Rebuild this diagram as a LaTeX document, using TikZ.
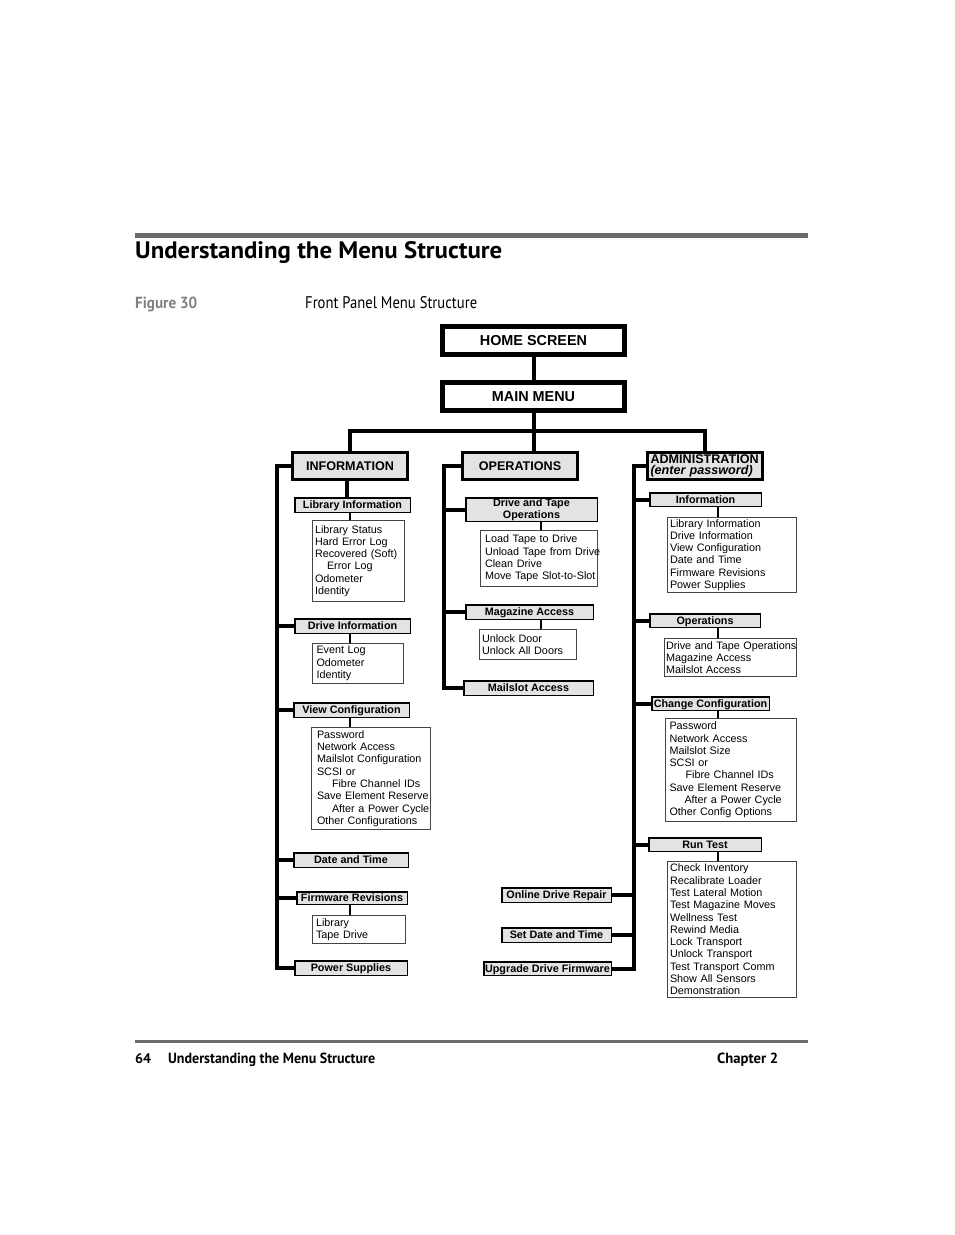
\documentclass[tikz,border=0pt]{standalone}
\usepackage{fontspec}
\usepackage{graphicx}
\setmainfont{Liberation Sans}
\newfontfamily\headfont{PT Sans}
\definecolor{boxgray}{HTML}{E3E3E3}
\definecolor{detline}{HTML}{444444}
\definecolor{bargray}{HTML}{6B6B6B}
\definecolor{figgray}{HTML}{808080}
\tikzset{
  topbox/.style={draw=black, line width=5pt, fill=white, inner sep=0pt, text height=10.3pt, text depth=0pt, font=\fontsize{14.4}{16}\selectfont\bfseries},
  catbox/.style={draw=black, line width=3pt, fill=boxgray, inner sep=0pt, font=\fontsize{12.6}{11.5}\selectfont\bfseries},
  catone/.style={catbox, text height=9pt, text depth=0pt},
  subboxbase/.style={draw=black, line width=1.5pt, fill=boxgray, inner sep=0pt, align=center, font=\fontsize{10.8}{12}\selectfont\bfseries},
  subbox/.style={subboxbase, text height=7.7pt, text depth=0pt},
  detbox/.style={draw=detline, line width=1pt, fill=white, inner ysep=0pt, align=left, font=\fontsize{10.8}{12.3}\selectfont},
  bus/.style={line width=4pt},
  stub/.style={line width=1.5pt},
  headtext/.style={anchor=base west, inner sep=0pt},
}
\begin{document}
\begin{tikzpicture}[x=1pt,y=-1pt]
\useasboundingbox[fill=white] (0,0) rectangle (954,1235);

% header and footer
\fill[bargray] (135,233) rectangle (808,237.5);
\node[headtext] (title) at (135,258) {\resizebox{367pt}{17pt}{\headfont\bfseries Understanding the Menu Structure}};
\node[headtext, text=figgray] (fig) at (135,308) {\resizebox{62pt}{11.5pt}{\headfont\bfseries Figure 30}};
\node[headtext] (caption) at (305,308) {\resizebox{172pt}{12pt}{\headfont Front Panel Menu Structure}};
\fill[bargray] (135,1040) rectangle (808,1042.5);
\node[headtext] (pg) at (135,1063) {\resizebox{16pt}{10pt}{\headfont\bfseries 64}};
\node[headtext] (foot) at (168,1063) {\resizebox{207pt}{10.5pt}{\headfont\bfseries Understanding the Menu Structure}};
\node[headtext] (chap) at (717,1063) {\resizebox{61pt}{10.5pt}{\headfont\bfseries Chapter 2}};

% top level
\node[topbox, minimum width=182pt, minimum height=28pt] (home) at (533.5,340.5) {HOME SCREEN};
\node[topbox, minimum width=182pt, minimum height=28pt] (main) at (533.5,396.5) {MAIN MENU};

\node[catone, minimum width=115pt, minimum height=27pt] (info) at (350,466) {INFORMATION};
\node[catone, minimum width=115pt, minimum height=27pt] (ops) at (520,466) {OPERATIONS};
\node[catbox, minimum height=27pt, text width=109pt, inner xsep=3pt, align=left] (admin) at (705,466) {\mbox{ADMINISTRATION}\\\mbox{\itshape (enter password)}};

% information column
\node[subbox, minimum width=115.5pt, minimum height=14.5pt] (libinfo) at (352.5,505) {Library Information};
\node[detbox, inner xsep=2.5pt, text width=87pt, minimum height=81pt] (libdet) at (358.5,561)
 {Library Status\\Hard Error Log\\\mbox{Recovered (Soft)}\\\hspace*{12pt}Error Log\\Odometer\\Identity};
\node[subbox, minimum width=115.5pt, minimum height=14.5pt] (driveinfo) at (352.5,626) {Drive Information};
\node[detbox, inner xsep=4pt, text width=83pt, minimum height=40pt] (drivedet) at (358,663.5)
 {Event Log\\Odometer\\Identity};
\node[subbox, minimum width=115.5pt, minimum height=14.5pt] (viewconf) at (351.5,710) {View Configuration};
\node[detbox, inner xsep=5.5pt, text width=108pt, minimum height=102pt] (viewdet) at (371,778.5)
 {Password\\Network Access\\\mbox{Mailslot Configuration}\\SCSI or\\\mbox{\hspace*{15pt}Fibre Channel IDs}\\\mbox{Save Element Reserve}\\\mbox{\hspace*{15pt}After a Power Cycle}\\\mbox{Other Configurations}};
\node[subbox, minimum width=114.5pt, minimum height=14.5pt] (datetime) at (351,860) {Date and Time};
\node[subbox, minimum width=110.5pt, minimum height=12.5pt] (firmrev) at (352,898) {Firmware Revisions};
\node[detbox, inner xsep=3.5pt, text width=86pt, minimum height=28pt] (firmdet) at (359,929.5)
 {Library\\Tape Drive};
\node[subbox, minimum width=112.5pt, minimum height=14.5pt] (power) at (351,968) {Power Supplies};

% operations column
\node[subboxbase, minimum width=131.5pt, minimum height=23.5pt] (dto) at (531.5,509.5) {Drive and Tape\\Operations};
\node[detbox, inner xsep=4.5pt, text width=108pt, minimum height=56pt] (dtodet) at (539,558.5)
 {\mbox{Load Tape to Drive}\\\mbox{Unload Tape from Drive}\\Clean Drive\\\mbox{Move Tape Slot-to-Slot}};
\node[subbox, minimum width=127.5pt, minimum height=14.5pt] (mag) at (529.5,612) {Magazine Access};
\node[detbox, inner xsep=2.5pt, text width=92pt, minimum height=30pt] (magdet) at (528,644.5)
 {Unlock Door\\\mbox{Unlock All Doors}};
\node[subbox, minimum width=129.5pt, minimum height=14.5pt] (mail) at (528.5,688) {Mailslot Access};
\node[subbox, minimum width=109.5pt, minimum height=14.5pt] (online) at (556.5,895) {Online Drive Repair};
\node[subbox, minimum width=109.5pt, minimum height=14.5pt] (setdate) at (556.5,935) {Set Date and Time};
\node[subbox, minimum width=127.5pt, minimum height=13.5pt] (upgrade) at (547.5,968.5) {Upgrade Drive Firmware};

% administration column
\node[subbox, minimum width=111.5pt, minimum height=13.5pt] (ainfo) at (705.5,499.5) {Information};
\node[detbox, inner xsep=2.5pt, text width=124pt, minimum height=75pt] (ainfodet) at (732,555)
 {Library Information\\Drive Information\\View Configuration\\Date and Time\\Firmware Revisions\\Power Supplies};
\node[subbox, minimum width=110.5pt, minimum height=13.5pt] (aops) at (705,620.5) {Operations};
\node[detbox, inner xsep=1.5pt, text width=129pt, minimum height=38pt] (aopsdet) at (730.5,657.5)
 {\mbox{Drive and Tape Operations}\\Magazine Access\\Mailslot Access};
\node[subbox, minimum width=117.5pt, minimum height=13.5pt] (chconf) at (710.5,703.5) {Change Configuration};
\node[detbox, inner xsep=4pt, text width=123pt, minimum height=103pt] (chconfdet) at (731,770)
 {Password\\Network Access\\Mailslot Size\\SCSI or\\\mbox{\hspace*{16pt}Fibre Channel IDs}\\\mbox{Save Element Reserve}\\\mbox{\hspace*{15pt}After a Power Cycle}\\\mbox{Other Config Options}};
\node[subbox, minimum width=112.5pt, minimum height=13.5pt] (runtest) at (705,844.5) {Run Test};
\node[detbox, inner xsep=2.5pt, text width=124pt, minimum height=136pt] (runtestdet) at (732,929.5)
 {Check Inventory\\Recalibrate Loader\\Test Lateral Motion\\\mbox{Test Magazine Moves}\\Wellness Test\\Rewind Media\\Lock Transport\\Unlock Transport\\\mbox{Test Transport Comm}\\Show All Sensors\\Demonstration};

% connectors
\coordinate (busY) at (0,431);
\coordinate (ibus) at (277,0);
\coordinate (obus) at (444,0);
\coordinate (abus) at (634,0);
\coordinate (istub) at (347,0);
\coordinate (isx) at (350,0);
\coordinate (osx) at (541,0);
\coordinate (asx) at (718,0);

\draw[bus] (home.south) -- (main.north);
\draw[bus] (main.south) -- (main.south |- ops.north);
\draw[bus] (info.north) -- (info.north |- busY) -- (admin.north |- busY) -- (admin.north);

\draw[bus] (info.west) -- (info.west -| ibus) -- (power.west -| ibus) -- (power.west);
\foreach \n in {driveinfo,viewconf,datetime,firmrev} \draw[bus] (\n.west) -- (\n.west -| ibus);
\draw[bus] (info.south -| istub) -- (libinfo.north -| istub);
\foreach \a/\b in {libinfo/libdet,driveinfo/drivedet,viewconf/viewdet,firmrev/firmdet}
  \draw[stub] (\a.south -| isx) -- (\b.north -| isx);

\draw[bus] (ops.west) -- (ops.west -| obus) -- (mail.west -| obus) -- (mail.west);
\foreach \n in {dto,mag} \draw[bus] (\n.west) -- (\n.west -| obus);
\foreach \a/\b in {dto/dtodet,mag/magdet}
  \draw[stub] (\a.south -| osx) -- (\b.north -| osx);

\draw[bus] (admin.west) -- (admin.west -| abus) -- (upgrade.east -| abus) -- (upgrade.east);
\foreach \n in {ainfo,aops,chconf,runtest} \draw[bus] (\n.west) -- (\n.west -| abus);
\foreach \n in {online,setdate} \draw[bus] (\n.east) -- (\n.east -| abus);
\foreach \a/\b in {ainfo/ainfodet,aops/aopsdet,chconf/chconfdet,runtest/runtestdet}
  \draw[stub] (\a.south -| asx) -- (\b.north -| asx);
\end{tikzpicture}
\end{document}
